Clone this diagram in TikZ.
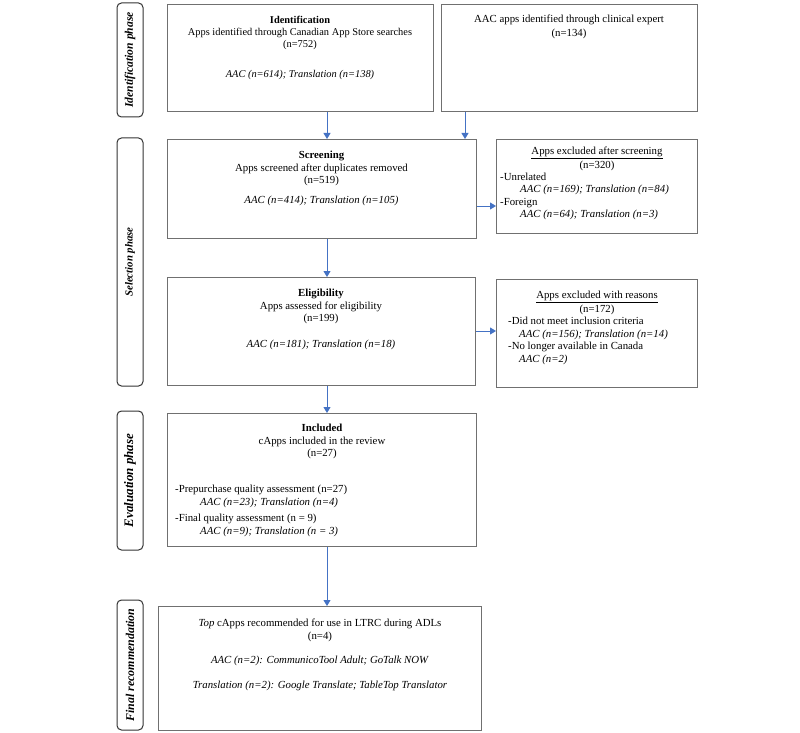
\documentclass[tikz,border=0pt]{standalone}
\usepackage{fontspec}
\setmainfont{Liberation Serif}
\usetikzlibrary{arrows.meta}
\definecolor{boxgray}{RGB}{112,112,112}
\definecolor{arrblue}{RGB}{68,114,196}
\definecolor{phasegray}{RGB}{50,50,50}
\begin{document}
\begin{tikzpicture}[x=1pt,y=-1pt,
  box/.style={draw=boxgray,line width=1.3pt,inner sep=0pt,anchor=north west},
  phasebox/.style={draw=phasegray,line width=1pt,rounded corners=4.5pt,rotate=90,inner sep=0pt,
    minimum height=26pt},
  txt/.style={inner sep=0pt,anchor=north,align=center,font=\fontsize{10.8}{12.4}\selectfont},
  ltxt/.style={inner sep=0pt,anchor=north west,align=left,font=\fontsize{10.8}{12.5}\selectfont},
  arr/.style={draw=arrblue,line width=1pt,-{Triangle[width=7pt,length=6pt]}}
]
\useasboundingbox (0,0) rectangle (800,733);

% phase labels
\node[phasebox,minimum width=114pt,font=\fontsize{11.6}{13}\selectfont\bfseries\itshape] (p1) at (130,60) {Identification phase};
\node[phasebox,minimum width=248pt,font=\fontsize{10.8}{13}\selectfont\bfseries\itshape] (p2) at (130,262) {Selection phase};
\node[phasebox,minimum width=139pt,font=\fontsize{13}{13}\selectfont\bfseries\itshape] (p3) at (130,480.5) {Evaluation phase};
\node[phasebox,minimum width=130pt,font=\fontsize{11.9}{13}\selectfont\bfseries\itshape] (p4) at (130,665) {Final recommendation};

% boxes
\node[box,minimum width=266pt,minimum height=107pt] (ident) at (167,4) {};
\node[box,minimum width=256pt,minimum height=107pt] (clin) at (441,4) {};
\node[box,minimum width=309pt,minimum height=99pt] (screen) at (167,139) {};
\node[box,minimum width=201pt,minimum height=94pt] (exc1) at (496,139) {};
\node[box,minimum width=308pt,minimum height=108pt] (elig) at (167,277) {};
\node[box,minimum width=201pt,minimum height=108pt] (exc2) at (496,279) {};
\node[box,minimum width=309pt,minimum height=133pt] (incl) at (167,413) {};
\node[box,minimum width=323pt,minimum height=124pt] (final) at (158,606) {};

% texts
\node[txt,font=\fontsize{10.4}{12.4}\selectfont] (t1) at (300,15.5) {\textbf{Identification}\\Apps identified through Canadian App Store searches\\(n=752)\\[17pt]\textit{AAC (n=614); Translation (n=138)}};
\node[txt] (t2) at (569,15) {AAC apps identified through clinical expert\\[1pt](n=134)};
\node[txt] (t3) at (321.5,151) {\textbf{Screening}\\Apps screened after duplicates removed\\(n=519)\\[8pt]\textit{AAC (n=414); Translation (n=105)}};
\node[txt] (t4) at (597,147) {\underline{Apps excluded after screening}\\[1pt](n=320)};
\node[ltxt] (t5) at (500,172.5) {-Unrelated\\\hspace*{20pt}\textit{AAC (n=169); Translation (n=84)}\\-Foreign\\\hspace*{20pt}\textit{AAC (n=64); Translation (n=3)}};
\node[txt] (t6) at (321,289) {\textbf{Eligibility}\\Apps assessed for eligibility\\(n=199)\\[14pt]\textit{AAC (n=181); Translation (n=18)}};
\node[txt] (t7) at (597,291) {\underline{Apps excluded with reasons}\\[1pt](n=172)};
\node[ltxt] (t8) at (508,317) {-Did not meet inclusion criteria\\\hspace*{11pt}\textit{AAC (n=156); Translation (n=14)}\\-No longer available in Canada\\\hspace*{11pt}\textit{AAC (n=2)}};
\node[txt] (t9) at (322,424) {\textbf{Included}\\cApps included in the review\\(n=27)};
\node[ltxt] (t10) at (175,485) {-Prepurchase quality assessment (n=27)\\\hspace*{25pt}\textit{AAC (n=23); Translation (n=4)}\\[4pt]-Final quality assessment (n = 9)\\\hspace*{25pt}\textit{AAC (n=9); Translation (n = 3)}};
\node[txt] (t11) at (320,619) {\textit{Top} cApps recommended for use in LTRC during ADLs\\(n=4)\\[12pt]\textit{AAC (n=2): CommunicoTool Adult; GoTalk NOW}\\[12.5pt]\textit{Translation (n=2): Google Translate; TableTop Translator}};

% connectors
\coordinate (cx1) at (327,0);
\coordinate (cx2) at (465,0);
\coordinate (cy1) at (0,206);
\coordinate (cy2) at (0,331);
\draw[arr] (ident.south -| cx1) -- (screen.north -| cx1);
\draw[arr] (clin.south -| cx2) -- (screen.north -| cx2);
\draw[arr] (screen.east |- cy1) -- (exc1.west |- cy1);
\draw[arr] (screen.south -| cx1) -- (elig.north -| cx1);
\draw[arr] (elig.east |- cy2) -- (exc2.west |- cy2);
\draw[arr] (elig.south -| cx1) -- (incl.north -| cx1);
\draw[arr] (incl.south -| cx1) -- (final.north -| cx1);
\end{tikzpicture}
\end{document}
